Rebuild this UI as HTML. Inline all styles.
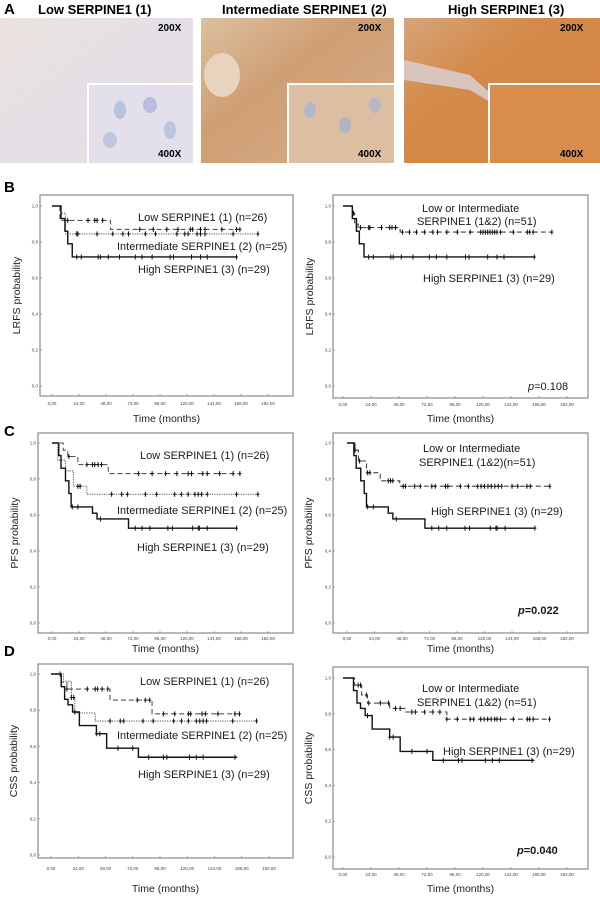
<!DOCTYPE html>
<html><head><meta charset="utf-8"><style>
html,body{margin:0;padding:0;background:#fff;}
svg{display:block;font-family:"Liberation Sans",Arial,sans-serif;}
.t{font-size:11px;fill:#1a1a1a;}
.pl{font-size:15px;font-weight:bold;fill:#000;}
.tk{font-size:4.5px;fill:#444;}
.ax{font-size:10.5px;fill:#222;}
</style></head><body>
<svg id="fig" width="600" height="902" viewBox="0 0 600 902">
<defs>
<linearGradient id="gLow" x1="0" y1="0" x2="1" y2="1"><stop offset="0" stop-color="#ece3df"/><stop offset="0.5" stop-color="#e4dfe6"/><stop offset="1" stop-color="#e8e0e2"/></linearGradient>
<linearGradient id="gInt" x1="0" y1="0" x2="1" y2="1"><stop offset="0" stop-color="#dcc0a0"/><stop offset="0.4" stop-color="#cf9f74"/><stop offset="1" stop-color="#d7ad88"/></linearGradient>
<linearGradient id="gHigh" x1="0" y1="0" x2="1" y2="1"><stop offset="0" stop-color="#d7a57a"/><stop offset="0.35" stop-color="#d38a4a"/><stop offset="1" stop-color="#d48443"/></linearGradient>
</defs>
<!-- Panel A -->
<text class="pl" x="4" y="14">A</text>
<text x="38" y="14" style="font-size:13px;font-weight:bold">Low SERPINE1  (1)</text>
<text x="222" y="14" style="font-size:13px;font-weight:bold">Intermediate SERPINE1 (2)</text>
<text x="448" y="14" style="font-size:13px;font-weight:bold">High SERPINE1  (3)</text>
<g>
<rect x="0" y="18" width="193" height="145" fill="url(#gLow)"/>
<rect x="87" y="83" width="106" height="80" fill="#fff"/>
<rect x="89" y="85" width="104" height="78" fill="#e3e0ec"/>
<ellipse cx="120" cy="110" rx="6" ry="9" fill="#b9c2dd"/><ellipse cx="150" cy="105" rx="7" ry="8" fill="#b7bfdc"/><ellipse cx="170" cy="130" rx="6" ry="9" fill="#bcc4de"/><ellipse cx="110" cy="140" rx="7" ry="8" fill="#c0c6df"/>
<text x="158" y="31" style="font-size:10px;font-weight:bold">200X</text>
<text x="158" y="157" style="font-size:10px;font-weight:bold">400X</text>
</g>
<g>
<rect x="201" y="18" width="193" height="145" fill="url(#gInt)"/>
<ellipse cx="222" cy="75" rx="18" ry="22" fill="#e8d3be"/>
<rect x="287" y="83" width="107" height="80" fill="#fff"/>
<rect x="289" y="85" width="105" height="78" fill="#dcbfa3"/>
<ellipse cx="310" cy="110" rx="6" ry="8" fill="#b4b5c8"/><ellipse cx="345" cy="125" rx="6" ry="8" fill="#b2b3c6"/><ellipse cx="375" cy="105" rx="6" ry="8" fill="#b7b5c6"/>
<text x="358" y="31" style="font-size:10px;font-weight:bold">200X</text>
<text x="358" y="157" style="font-size:10px;font-weight:bold">400X</text>
</g>
<g>
<rect x="404" y="18" width="196" height="145" fill="url(#gHigh)"/>
<path d="M404,60 L470,75 L520,120 L470,90 L404,80 Z" fill="#d9c5bb"/>
<rect x="488" y="83" width="112" height="80" fill="#fff"/>
<rect x="490" y="85" width="110" height="78" fill="#d98d4c"/>
<text x="560" y="31" style="font-size:10px;font-weight:bold">200X</text>
<text x="560" y="157" style="font-size:10px;font-weight:bold">400X</text>
</g>

<text class="pl" x="4" y="192">B</text>
<text class="pl" x="4" y="436">C</text>
<text class="pl" x="4" y="656">D</text>

<!-- Legend-like annotations -->
<text class="t" x="138" y="221">Low SERPINE1  (1) (n=26)</text>
<text class="t" x="117" y="250">Intermediate SERPINE1  (2) (n=25)</text>
<text class="t" x="138" y="273">High SERPINE1   (3) (n=29)</text>
<text class="t" x="422" y="212">Low  or Intermediate</text>
<text class="t" x="417" y="225">SERPINE1   (1&amp;2) (n=51)</text>
<text class="t" x="423" y="282">High SERPINE1   (3) (n=29)</text>
<text class="t" x="528" y="390"><tspan font-style="italic">p</tspan>=0.108</text>

<text class="t" x="140" y="459">Low SERPINE1  (1) (n=26)</text>
<text class="t" x="117" y="514">Intermediate SERPINE1  (2) (n=25)</text>
<text class="t" x="137" y="551">High SERPINE1   (3) (n=29)</text>
<text class="t" x="423" y="452">Low  or Intermediate</text>
<text class="t" x="419" y="466">SERPINE1   (1&amp;2)(n=51)</text>
<text class="t" x="431" y="515">High SERPINE1   (3) (n=29)</text>
<text class="t" x="518" y="614" style="font-weight:bold"><tspan font-style="italic">p</tspan>=0.022</text>

<text class="t" x="140" y="685">Low SERPINE1  (1) (n=26)</text>
<text class="t" x="117" y="739">Intermediate SERPINE1  (2) (n=25)</text>
<text class="t" x="138" y="778">High SERPINE1   (3) (n=29)</text>
<text class="t" x="422" y="692">Low  or Intermediate</text>
<text class="t" x="417" y="706">SERPINE1   (1&amp;2) (n=51)</text>
<text class="t" x="443" y="755">High SERPINE1   (3) (n=29)</text>
<text class="t" x="517" y="854" style="font-weight:bold"><tspan font-style="italic">p</tspan>=0.040</text>
<g id="charts"></g>
</svg>
<script>
const yTickValues = [0, 0.2, 0.4, 0.6, 0.8, 1.0];
const yTickLabels = ["0,0", "0,2", "0,4", "0,6", "0,8", "1,0"];
const xTickValues = [0, 24, 48, 72, 96, 120, 144, 168, 192];
const xTickLabels = ["0,00", "24,00", "48,00", "72,00", "96,00", "120,00", "144,00", "168,00", "192,00"];

// LRFS (B)
const bLowT = [0, 7, 52];          const bLowS = [1, 0.92, 0.87];     const bLowEnd = 167;
const bLowC = [14, 32, 38, 40, 45, 78, 90, 102, 112, 123, 125, 132, 136, 151, 164, 167];
const bIntT = [0, 8, 12];          const bIntS = [1, 0.96, 0.845];    const bIntEnd = 183;
const bIntC = [22, 23, 40, 54, 63, 68, 83, 92, 111, 118, 121, 129, 132, 136, 161, 183];
const bHighT = [0, 8, 11.5, 14, 18]; const bHighS = [1, 0.93, 0.86, 0.79, 0.717]; const bHighEnd = 164;
const bHighC = [22, 26, 41, 43, 50, 60, 74, 80, 89, 105, 108, 124, 132, 138, 164];
const bCombT = [0, 8, 10, 13, 49]; const bCombS = [1, 0.96, 0.90, 0.88, 0.855]; const bCombEnd = 179;
const bCombC = [9, 15, 22, 23, 33, 40, 42, 45, 51, 57, 63, 70, 77, 81, 89, 98, 109, 118, 120, 122, 124, 126, 128, 130, 132, 135, 146, 158, 160, 163, 179];

// PFS (C)
const cLowT = [0, 10, 14, 23, 50];  const cLowS = [1, 0.96, 0.925, 0.88, 0.83]; const cLowEnd = 167;
const cLowC = [15, 31, 36, 38, 41, 44, 77, 89, 101, 111, 121, 124, 134, 138, 149, 161, 167];
const cIntT = [0, 5, 12, 19, 31];   const cIntS = [1, 0.905, 0.845, 0.76, 0.715]; const cIntEnd = 183;
const cIntC = [23, 25, 53, 62, 67, 83, 93, 109, 115, 121, 127, 130, 133, 138, 164, 183];
const cHighT = [0, 6, 8, 12, 15, 17, 36, 40, 68]; const cHighS = [1, 0.93, 0.86, 0.79, 0.72, 0.645, 0.61, 0.578, 0.527]; const cHighEnd = 164;
const cHighC = [18, 23, 43, 74, 80, 87, 103, 107, 125, 130, 131, 138, 164];
const cCombT = [0, 7, 10, 17, 29, 46]; const cCombS = [1, 0.96, 0.90, 0.835, 0.79, 0.76]; const cCombEnd = 177;
const cCombC = [7, 11, 18, 20, 36, 38, 40, 49, 51, 59, 64, 74, 77, 86, 88, 99, 106, 114, 117, 120, 123, 126, 129, 132, 135, 144, 149, 157, 160, 177];

// CSS (D)
const dLowT = [0, 9, 14, 52, 89];  const dLowS = [1, 0.955, 0.917, 0.856, 0.78]; const dLowEnd = 166;
const dLowC = [8, 14, 32, 39, 41, 45, 50, 76, 83, 87, 99, 109, 121, 123, 133, 136, 147, 162, 166];
const dIntT = [0, 11, 18, 21, 39];  const dIntS = [1, 0.96, 0.87, 0.785, 0.74]; const dIntEnd = 181;
const dIntC = [18, 20, 52, 61, 64, 81, 90, 108, 115, 121, 128, 131, 134, 137, 160, 181];
const dHighT = [0, 9, 12, 15, 19, 25, 40, 49, 77]; const dHighS = [1, 0.93, 0.86, 0.83, 0.79, 0.715, 0.67, 0.59, 0.54]; const dHighEnd = 164;
const dHighC = [21, 40, 43, 59, 72, 86, 99, 102, 122, 128, 134, 162];
const dCombT = [0, 10, 16, 21, 40, 53, 89]; const dCombS = [1, 0.96, 0.905, 0.86, 0.83, 0.81, 0.77]; const dCombEnd = 177;
const dCombC = [13, 15, 20, 22, 32, 39, 45, 49, 59, 62, 70, 77, 83, 89, 98, 109, 112, 118, 121, 124, 127, 130, 132, 135, 146, 158, 160, 163, 177];

const NS = "http://www.w3.org/2000/svg";
const root = document.getElementById("charts");
function mk(tag, attrs, parent) {
  const e = document.createElementNS(NS, tag);
  for (const k in attrs) e.setAttribute(k, attrs[k]);
  parent.appendChild(e);
  return e;
}
const STY = {
  low: {stroke: "#555", dash: "5,3", w: 1.1},
  int: {stroke: "#666", dash: "1.2,1.2", w: 1.1},
  high: {stroke: "#111", dash: "", w: 1.4},
  comb: {stroke: "#444", dash: "5,3", w: 1.1}
};
function drawPlot(cfg) {
  const g = mk("g", {}, root);
  
  
  const xs = m => cfg.xa + (cfg.xb - cfg.xa) * m / 192;
  const ys = v => cfg.yb - (cfg.yb - cfg.ya) * v;
  const box = mk("rect", {x: cfg.box[0], y: cfg.box[1], width: cfg.box[2] - cfg.box[0], height: cfg.box[3] - cfg.box[1], fill: "none", stroke: "#8a8a8a", "stroke-width": 1.2}, g);
  
  
  yTickValues.forEach((v, i) => {
    const y = ys(v);
    mk("line", {x1: cfg.box[0], x2: cfg.box[0] + 2, y1: y, y2: y, stroke: "#777", "stroke-width": 0.6}, g);
    const t = mk("text", {x: cfg.box[0] - 2, y: y + 1.5, "text-anchor": "end", class: "tk"}, g);
    t.textContent = yTickLabels[i];
    
    
  });
  xTickValues.forEach((v, i) => {
    const x = xs(v);
    mk("line", {x1: x, x2: x, y1: cfg.box[3], y2: cfg.box[3] - 2, stroke: "#777", "stroke-width": 0.6}, g);
    const t = mk("text", {x: x, y: cfg.tickY, "text-anchor": "middle", class: "tk"}, g);
    t.textContent = xTickLabels[i];
    
    
  });
  const xt = mk("text", {x: (cfg.box[0] + cfg.box[2]) / 2, y: cfg.timeY, "text-anchor": "middle", class: "ax"}, g);
  xt.textContent = "Time  (months)";
  
  
  const cy = (cfg.box[1] + cfg.box[3]) / 2;
  const yt = mk("text", {x: cfg.yTitleX, y: cy, "text-anchor": "middle", class: "ax", transform: "rotate(-90 " + cfg.yTitleX + " " + cy + ")"}, g);
  yt.textContent = cfg.yTitle;
  
  
  cfg.series.forEach(s => {
    const st = STY[s.kind];
    let d = "M" + xs(0) + "," + ys(s.s[0]);
    for (let i = 1; i < s.t.length; i++) {
      d += " H" + xs(s.t[i]) + " V" + ys(s.s[i]);
    }
    d += " H" + xs(s.end);
    const p = mk("path", {d: d, fill: "none", stroke: st.stroke, "stroke-width": st.w, "stroke-dasharray": st.dash}, g);
    
    
    const valAt = m => { let v = s.s[0]; for (let i = 0; i < s.t.length; i++) if (s.t[i] <= m) v = s.s[i]; return v; };
    s.c.forEach(m => {
      const x = xs(m), y = ys(valAt(m));
      const c = mk("path", {d: "M" + x + "," + (y - 2.5) + " V" + (y + 2.5) + " M" + (x - 1.5) + "," + y + " H" + (x + 1.5), stroke: "#111", "stroke-width": 1, fill: "none"}, g);
      
      
    });
  });
}
drawPlot({name: "lrfs-plot-three-groups", box: [40, 195, 293, 396], xa: 52, xb: 268, ya: 206, yb: 386, tickY: 405, timeY: 422, yTitle: "LRFS  probability", yTitleX: 20,
  series: [{kind: "low", t: bLowT, s: bLowS, end: bLowEnd, c: bLowC}, {kind: "int", t: bIntT, s: bIntS, end: bIntEnd, c: bIntC}, {kind: "high", t: bHighT, s: bHighS, end: bHighEnd, c: bHighC}]});
drawPlot({name: "lrfs-plot-two-groups", box: [333, 195, 588, 398], xa: 343, xb: 567, ya: 206, yb: 386, tickY: 406, timeY: 422, yTitle: "LRFS  probability", yTitleX: 313,
  series: [{kind: "comb", t: bCombT, s: bCombS, end: bCombEnd, c: bCombC}, {kind: "high", t: bHighT, s: bHighS, end: bHighEnd, c: bHighC}]});
drawPlot({name: "pfs-plot-three-groups", box: [38, 433, 293, 633], xa: 52, xb: 268, ya: 443, yb: 623, tickY: 640, timeY: 652, yTitle: "PFS    probability", yTitleX: 18,
  series: [{kind: "low", t: cLowT, s: cLowS, end: cLowEnd, c: cLowC}, {kind: "int", t: cIntT, s: cIntS, end: cIntEnd, c: cIntC}, {kind: "high", t: cHighT, s: cHighS, end: cHighEnd, c: cHighC}]});
drawPlot({name: "pfs-plot-two-groups", box: [333, 433, 588, 633], xa: 347, xb: 567, ya: 443, yb: 623, tickY: 640, timeY: 652, yTitle: "PFS    probability", yTitleX: 312,
  series: [{kind: "comb", t: cCombT, s: cCombS, end: cCombEnd, c: cCombC}, {kind: "high", t: cHighT, s: cHighS, end: cHighEnd, c: cHighC}]});
drawPlot({name: "css-plot-three-groups", box: [38, 664, 293, 858], xa: 51, xb: 269, ya: 674, yb: 855, tickY: 870, timeY: 892, yTitle: "CSS   probability", yTitleX: 17,
  series: [{kind: "low", t: dLowT, s: dLowS, end: dLowEnd, c: dLowC}, {kind: "int", t: dIntT, s: dIntS, end: dIntEnd, c: dIntC}, {kind: "high", t: dHighT, s: dHighS, end: dHighEnd, c: dHighC}]});
drawPlot({name: "css-plot-two-groups", box: [333, 667, 588, 869], xa: 343, xb: 567, ya: 678, yb: 857, tickY: 876, timeY: 892, yTitle: "CSS   probability", yTitleX: 312,
  series: [{kind: "comb", t: dCombT, s: dCombS, end: dCombEnd, c: dCombC}, {kind: "high", t: dHighT, s: dHighS, end: dHighEnd, c: dHighC}]});
</script>
</body></html>
